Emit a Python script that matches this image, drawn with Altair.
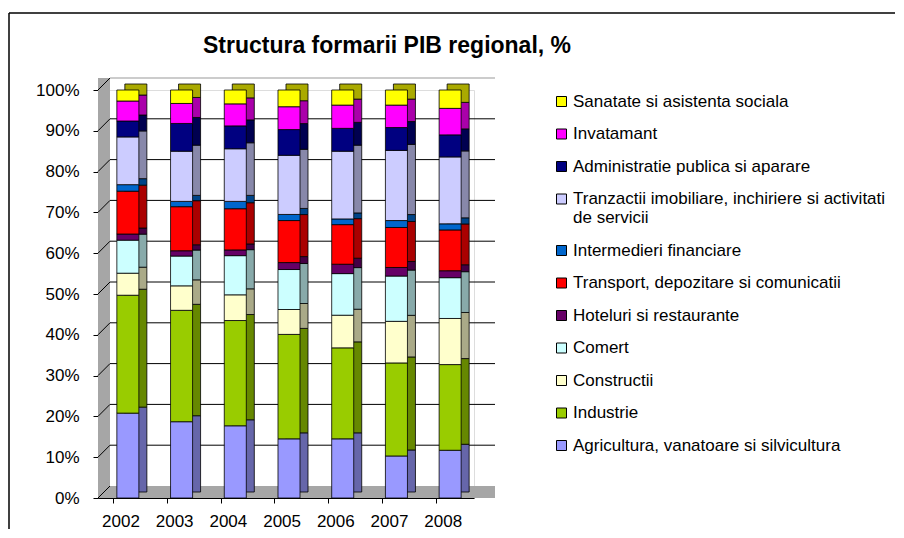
import altair as alt
import pandas as pd

years = ["2002", "2003", "2004", "2005", "2006", "2007", "2008"]

# sectors from bottom of stack to top
sectors = [
    "Agricultura, vanatoare si silvicultura",
    "Industrie",
    "Constructii",
    "Comert",
    "Hoteluri si restaurante",
    "Transport, depozitare si comunicatii",
    "Intermedieri financiare",
    "Tranzactii imobiliare, inchiriere si activitati de servicii",
    "Administratie publica si aparare",
    "Invatamant",
    "Sanatate si asistenta sociala",
]

agricultura = [20.8, 18.7, 17.7, 14.5, 14.5, 10.3, 11.7]
industrie = [28.9, 27.3, 25.8, 25.6, 22.3, 22.8, 21.0]
constructii = [5.4, 6.0, 6.3, 6.1, 8.0, 10.2, 11.3]
comert = [8.1, 7.3, 9.6, 9.8, 10.2, 11.1, 10.0]
hoteluri = [1.5, 1.3, 1.4, 1.7, 2.3, 2.1, 1.7]
transport = [10.5, 10.8, 10.1, 10.3, 9.7, 9.8, 10.0]
intermedieri = [1.6, 1.3, 1.8, 1.5, 1.4, 1.7, 1.5]
tranzactii = [11.7, 12.3, 12.9, 14.5, 16.6, 17.2, 16.4]
administratie = [3.9, 6.8, 5.6, 6.3, 5.6, 5.6, 5.4]
invatamant = [4.9, 4.9, 5.4, 5.6, 5.7, 5.5, 6.5]
sanatate = [2.7, 3.3, 3.4, 4.1, 3.7, 3.7, 4.5]

series = [agricultura, industrie, constructii, comert, hoteluri, transport,
          intermedieri, tranzactii, administratie, invatamant, sanatate]

front_colors = ["#9999FF", "#99CC00", "#FFFFCC", "#CCFFFF", "#660066", "#FF0000",
                "#0066CC", "#CCCCFF", "#000080", "#FF00FF", "#FFFF00"]
side_colors = ["#6666AA", "#668800", "#AAAA88", "#88AAAA", "#440044", "#AA0000",
               "#004488", "#8888AA", "#000050", "#AA00AA", "#AAAA00"]

y_ticks = [0.1, 0.2, 0.3, 0.4, 0.5, 0.6, 0.7, 0.8, 0.9]

rows = []
for i, (name, vals) in enumerate(zip(sectors, series)):
    for yr, v in zip(years, vals):
        rows.append({"year": yr, "sector": name, "value": v, "idx": i,
                     "side": side_colors[i]})
df = pd.DataFrame(rows)

FONT = "Liberation Sans"
W, H = 376, 408

legend_domain = list(reversed(sectors))
legend_range = list(reversed(front_colors))

yscale = alt.Scale(domain=[0, 1])
xscale = alt.Scale(paddingInner=0.59, paddingOuter=0.295)

one = pd.DataFrame({"a": [0]})

# outer frame (only left and top edges are visible in the window)
frame_left = alt.Chart(one).mark_rule(color="black", strokeWidth=1.5).encode(
    x=alt.value(-89), y=alt.value(-77), y2=alt.value(H + 31))
frame_top = alt.Chart(one).mark_rule(color="black", strokeWidth=1.5).encode(
    x=alt.value(-89), x2=alt.value(W + 421), y=alt.value(-77))

wall = alt.Chart(one).mark_rect(
    color="#A6A6A6"
).encode(x=alt.value(0), x2=alt.value(12), y=alt.value(-12), y2=alt.value(H))

floor = alt.Chart(one).mark_rect(
    color="#A6A6A6"
).encode(x=alt.value(0), x2=alt.value(397), y=alt.value(H - 12), y2=alt.value(H))

grid = alt.Chart(pd.DataFrame({"t": y_ticks})).mark_rule(
    color="black", strokeWidth=1, yOffset=-12
).encode(y=alt.Y("t:Q", scale=yscale), x=alt.value(12), x2=alt.value(397))

diag = alt.Chart(pd.DataFrame({"t": y_ticks + [0.0, 1.0]})).mark_rule(
    color="black", strokeWidth=1, y2Offset=-12
).encode(
    y=alt.Y("t:Q", scale=yscale), y2=alt.Y2("t:Q"), x=alt.value(0), x2=alt.value(12)
)
top_edge = alt.Chart(pd.DataFrame({"t": [1.0]})).mark_rule(
    color="#999999", strokeWidth=1, yOffset=-12
).encode(y=alt.Y("t:Q", scale=yscale), x=alt.value(12), x2=alt.value(397))

side = alt.Chart(df).mark_bar(
    stroke="black", strokeWidth=0.8, xOffset=11, x2Offset=11, yOffset=-6, y2Offset=-6
).encode(
    x=alt.X("year:N", scale=xscale),
    y=alt.Y("value:Q", stack="normalize", scale=yscale),
    color=alt.Color("side:N", scale=None),
    order=alt.Order("idx:Q", sort="ascending"),
)

front = alt.Chart(df).mark_bar(
    stroke="black", strokeWidth=0.8, xOffset=3, x2Offset=3
).encode(
    x=alt.X("year:N", scale=xscale, title=None,
            axis=alt.Axis(labelAngle=0, bandPosition=0, tickSize=5, labelPadding=18,
                          labelFontSize=17, labelFont=FONT, labelColor="black",
                          domainColor="black", tickColor="black", labelOffset=15)),
    y=alt.Y("value:Q", stack="normalize", scale=yscale, title=None,
            axis=alt.Axis(format=".0%", values=[0, 0.1, 0.2, 0.3, 0.4, 0.5, 0.6, 0.7, 0.8, 0.9, 1.0],
                          grid=False, tickSize=5, labelPadding=14, labelFontSize=17,
                          labelFont=FONT, labelColor="black",
                          domainColor="black", tickColor="black")),
    color=alt.Color("sector:N",
                    scale=alt.Scale(domain=legend_domain, range=legend_range),
                    sort=legend_domain,
                    legend=alt.Legend(
                        title=None, orient="none", legendX=455, legendY=3,
                        symbolType="square", symbolSize=100,
                        symbolStrokeColor="black", symbolStrokeWidth=1,
                        symbolOpacity=1,
                        labelFont=FONT, labelFontSize=17, labelColor="black",
                        labelLimit=330, rowPadding=14.5, labelOffset=3,
                        labelExpr="indexof(datum.label, ' de servicii') > 0 ? [replace(datum.label, ' de servicii', ''), 'de servicii'] : datum.label",
                    )),
    order=alt.Order("idx:Q", sort="ascending"),
)

title = alt.Chart(one).mark_text(
    text="Structura formarii  PIB regional, %", font=FONT, fontSize=23,
    fontWeight="bold", color="black", align="center", baseline="alphabetic"
).encode(x=alt.value(289), y=alt.value(-37))

chart = alt.layer(frame_left, frame_top, wall, floor, grid, top_edge, diag,
                  side, front, title).properties(
    width=W, height=H,
    autosize=alt.AutoSizeParams(type="none"),
    padding={"left": 90, "top": 82, "right": 422, "bottom": 32},
).configure_view(stroke=None).configure(background="white")

chart.save("out.html", embed_options={"renderer": "svg", "actions": False})
